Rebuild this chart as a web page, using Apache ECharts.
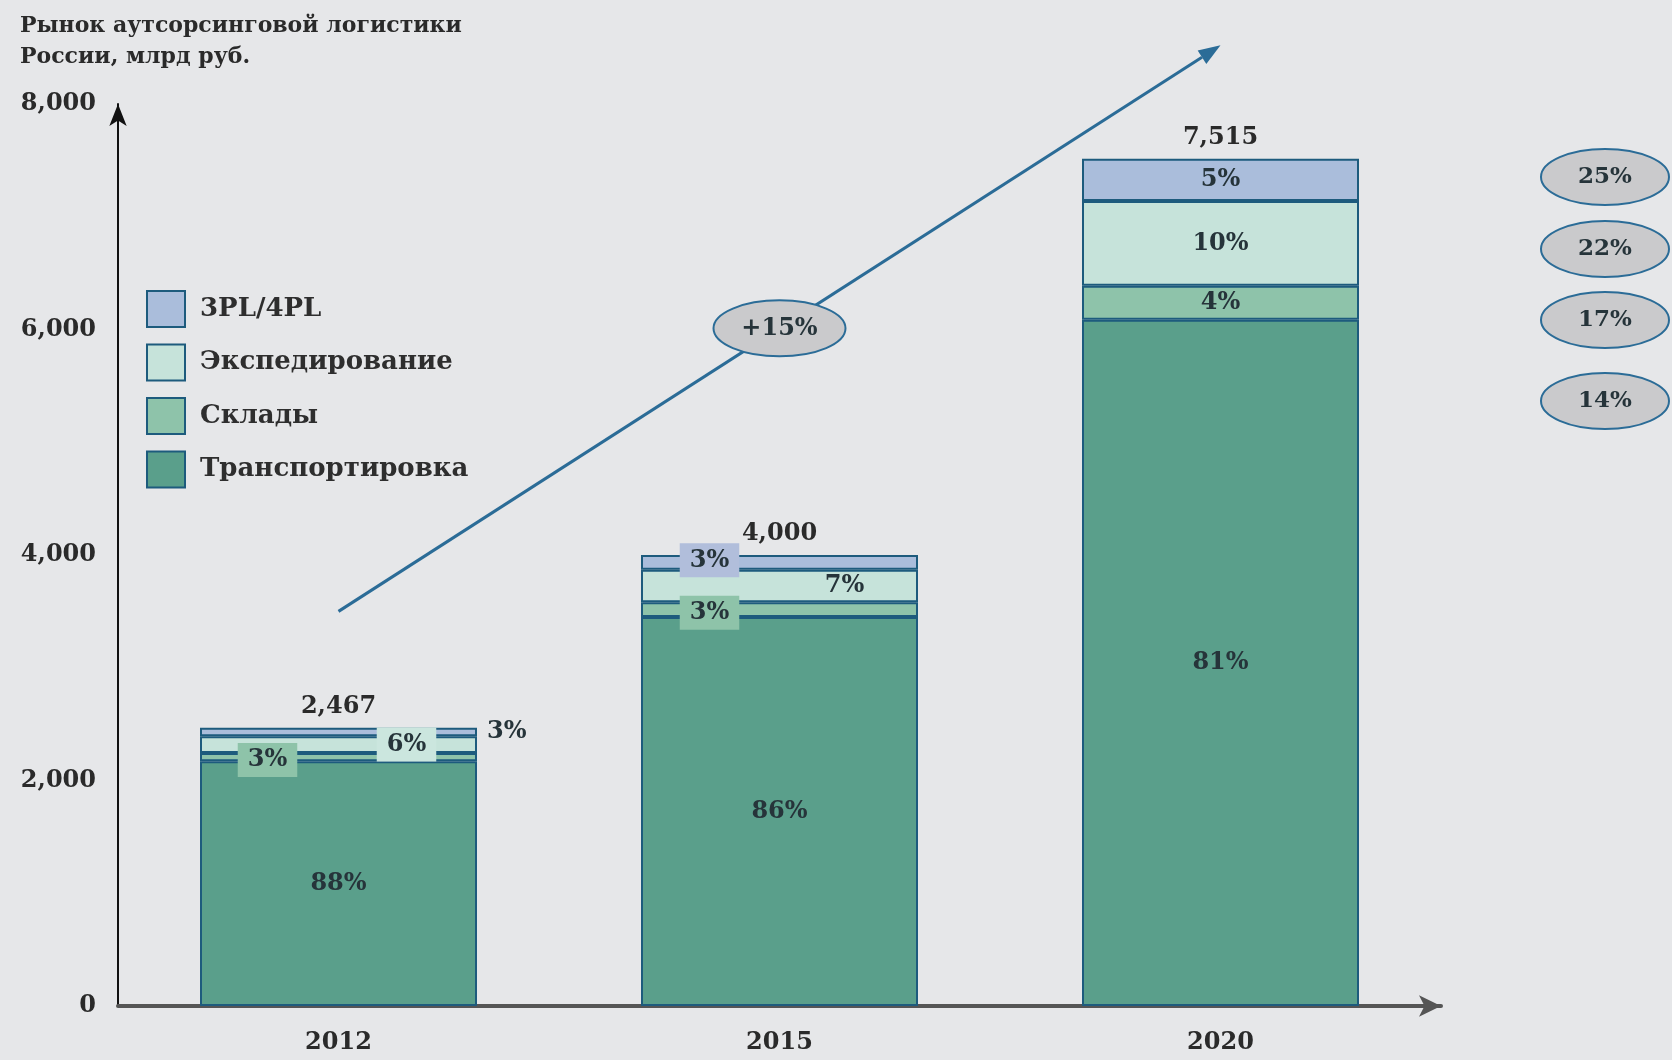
<!DOCTYPE html>
<html>
<head>
<meta charset="utf-8">
<script src="https://cdn.jsdelivr.net/npm/echarts@6/dist/echarts.min.js"></script>
<style>
  html, body { margin: 0; background: #e6e7e9; }
  #chart { width: 1672px; height: 1060px; }
</style>
</head>
<body>
<div id="chart"></div>
<script>
// market of outsourced logistics, bn rub
const years = ["2012", "2015", "2020"]
const totals = [2467, 4000, 7515]
const transport = [2171, 3450, 6087]
const warehouses = [74, 130, 301]
const forwarding = [148, 290, 752]
const tpl = [74, 130, 375]
const transportPct = [88, 86, 81]
const warehousesPct = [3, 3, 4]
const forwardingPct = [6, 7, 10]
const tplPct = [3, 3, 5]
// growth per segment, top to bottom: 3PL/4PL, Экспедирование, Склады, Транспортировка
const cagrLabels = ["25%", "22%", "17%", "14%"]
const trendLabel = "+15%"
const trendFrom = 3500
const trendTo = 8520

const SERIF = '"DejaVu Serif", "Liberation Serif", serif'
const EDGE = "#1d5b7d"
const INK = "#26343a"
const TEXT = "#2a2a2a"

const chart = echarts.init(document.getElementById("chart"))

// per-bar label tweaks for the thin segments
const boxed = (offset, bg) => ({ offset, backgroundColor: bg, padding: [5, 10] })

function segment(name, values, pct, color, tweaks) {
  return {
    name,
    type: "bar",
    stack: "total",
    barWidth: 277,
    data: values.map((v, i) => ({ value: v, label: tweaks[i] || {} })),
    itemStyle: { color, borderColor: EDGE, borderWidth: 2 },
    label: {
      show: true,
      position: "inside",
      formatter: (p) => pct[p.dataIndex] + "%",
      fontFamily: SERIF,
      fontSize: 24,
      fontWeight: "bold",
      color: INK,
    },
  }
}

chart.setOption({
  backgroundColor: "#e6e7e9",
  animation: false,
  title: {
    text: "Рынок аутсорсинговой логистики\nРоссии, млрд руб.",
    left: 15,
    top: 6,
    textStyle: { fontFamily: SERIF, fontSize: 22, fontWeight: "bold", color: TEXT, lineHeight: 31 },
  },
  legend: {
    data: ["3PL/4PL", "Экспедирование", "Склады", "Транспортировка"],
    orient: "vertical",
    left: 141,
    top: 285,
    itemWidth: 38,
    itemHeight: 36,
    itemGap: 15.5,
    icon: "rect",
    textStyle: { fontFamily: SERIF, fontSize: 26, fontWeight: "bold", color: "#2e2e2e", padding: [4, 0, 0, 10] },
  },
  grid: { left: 118, right: 231, top: 104, bottom: 54 },
  xAxis: {
    type: "category",
    data: years,
    axisTick: { show: false },
    axisLine: { lineStyle: { color: "#555", width: 4 }, symbol: ["none", "arrow"], symbolSize: [16, 22] },
    axisLabel: { margin: 25, fontFamily: SERIF, fontSize: 24, fontWeight: "bold", color: TEXT },
  },
  yAxis: {
    type: "value",
    min: 0,
    max: 8000,
    interval: 2000,
    splitLine: { show: false },
    axisTick: { show: false },
    axisLine: { show: true, lineStyle: { color: "#111", width: 2 }, symbol: ["none", "arrow"], symbolSize: [13, 22] },
    axisLabel: {
      margin: 22,
      fontFamily: SERIF,
      fontSize: 24,
      fontWeight: "bold",
      color: TEXT,
      formatter: (v) => v.toLocaleString("en-US"),
    },
  },
  series: [
    segment("Транспортировка", transport, transportPct, "#5a9f8b", []),
    segment("Склады", warehouses, warehousesPct, "#8ec3aa", [
      boxed([-71, 3], "#8ec3a9"),
      boxed([-70, 3], "#8ec3a9"),
    ]),
    segment("Экспедирование", forwarding, forwardingPct, "#c6e3da", [
      boxed([68, 0], "#cbe6de"),
      { offset: [65, 0] },
    ]),
    segment("3PL/4PL", tpl, tplPct, "#aabddb", [
      { position: "right", distance: 10 },
      boxed([-70, -2], "#b1bedb"),
    ]),
    {
      name: "total",
      type: "scatter",
      data: totals,
      symbolSize: 0,
      silent: true,
      itemStyle: { opacity: 1 },
      label: {
        show: true,
        position: "top",
        distance: 9,
        formatter: (p) => p.value.toLocaleString("en-US"),
        fontFamily: SERIF,
        fontSize: 24,
        fontWeight: "bold",
        color: TEXT,
        opacity: 1,
      },
    },
  ],
})

// trend arrow (end point lies above the axis max, so drawn as graphic from converted points)
const [x0, y0] = chart.convertToPixel({ gridIndex: 0 }, [years[0], trendFrom])
const [x1, y1] = chart.convertToPixel({ gridIndex: 0 }, [years[2], trendTo])
const ang = Math.atan2(y1 - y0, x1 - x0)
const headLen = 22, headHalf = 8
const bx = x1 - headLen * Math.cos(ang), by = y1 - headLen * Math.sin(ang)
const nx = -Math.sin(ang) * headHalf, ny = Math.cos(ang) * headHalf

const [mx, my] = chart.convertToPixel({ gridIndex: 0 }, [years[1], (trendFrom + trendTo) / 2])
const badge = (cx, cy, rx, ry, text, size) => [
  {
    type: "ellipse",
    shape: { cx, cy, rx, ry },
    style: { fill: "#cacacc", stroke: "#2b6c97", lineWidth: 2 },
    z: 100,
  },
  {
    type: "text",
    x: cx,
    y: cy,
    style: { text, fontFamily: SERIF, fontSize: size, fontWeight: "bold", fill: INK, align: "center", verticalAlign: "middle" },
    z: 101,
  },
]
const badgeRows = [177, 249, 320, 401]
chart.setOption({
  graphic: [
    { type: "line", shape: { x1: x0, y1: y0, x2: bx, y2: by }, style: { stroke: "#2b6c97", lineWidth: 3 }, z: 90 },
    {
      type: "polygon",
      shape: { points: [[x1, y1], [bx + nx, by + ny], [bx - nx, by - ny]] },
      style: { fill: "#2b6c97" },
      z: 90,
    },
    ...badge(mx, my, 66, 28, trendLabel, 24),
    ...cagrLabels.flatMap((t, i) => badge(1605, badgeRows[i], 64, 28, t, 23)),
  ],
})
</script>
</body>
</html>
